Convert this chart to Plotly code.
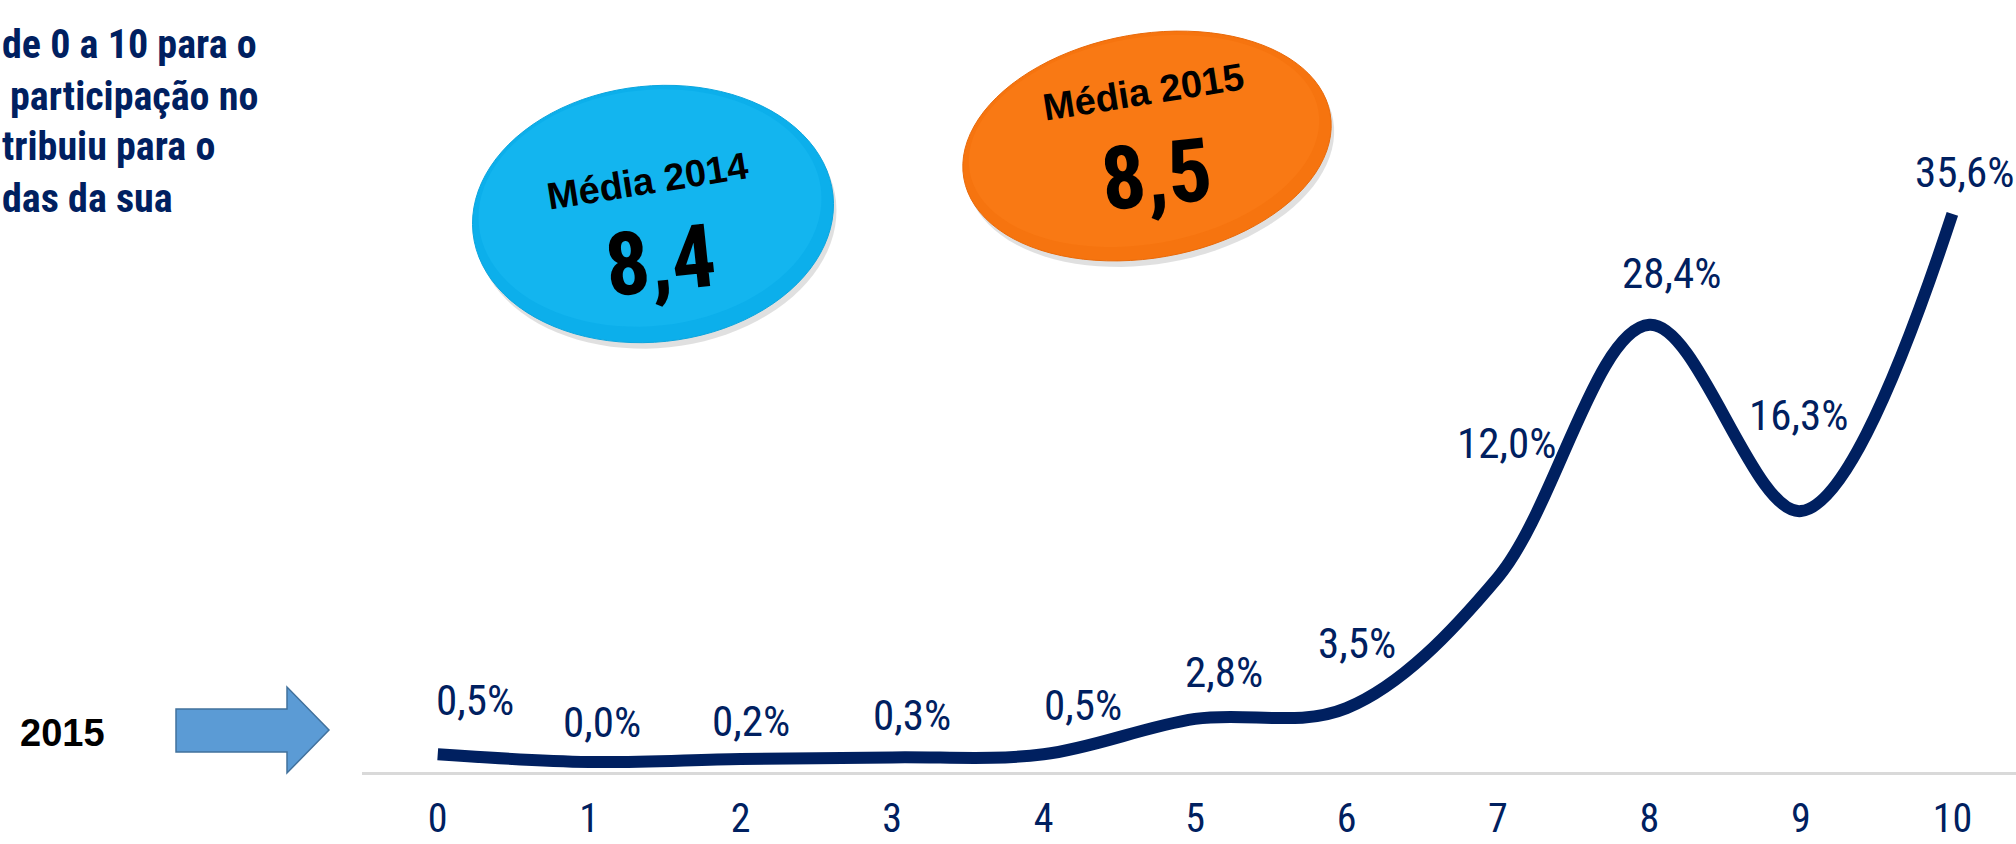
import math
import plotly.graph_objects as go

# ---- data ----
categories = [0, 1, 2, 3, 4, 5, 6, 7, 8, 9, 10]
values_2015 = [0.5, 0.0, 0.2, 0.3, 0.5, 2.8, 3.5, 12.0, 28.4, 16.3, 35.6]
value_labels = ["0,5%", "0,0%", "0,2%", "0,3%", "0,5%", "2,8%", "3,5%",
                "12,0%", "28,4%", "16,3%", "35,6%"]
tick_labels = ["0", "1", "2", "3", "4", "5", "6", "7", "8", "9", "10"]
media_2014 = "8,4"
media_2015 = "8,5"
question_lines = ["de 0 a 10 para o", "participação no", "tribuiu para o", "das da sua"]
series_name = "2015"

# label placement (pixel offsets from each point: dx, dy-up)
label_offsets = [(37, 54), (13, 40), (10, 38), (20, 42), (39, 49), (29, 47),
                 (10, 65), (9, 134), (22, 52), (-2, 96), (12, 42)]

W, H = 2016, 844
L, R, T, B = 362, 2016, 0, 772
NAVY = "#002060"
NARROW = "Liberation Sans Narrow, Arial Narrow, Roboto Condensed, DejaVu Sans Condensed, sans-serif"
SANS = "Liberation Sans, Arial, sans-serif"


def px(x):
    return (x - L) / (R - L)


def py(y):
    return (B - y) / (B - T)


def ellipse_path(cx, cy, a, b, deg, n=96):
    th = math.radians(deg)
    pts = []
    for i in range(n):
        t = 2 * math.pi * i / n
        X = cx + a * math.cos(t) * math.cos(th) + b * math.sin(t) * math.sin(th)
        Y = cy - a * math.cos(t) * math.sin(th) + b * math.sin(t) * math.cos(th)
        pts.append((px(X), py(Y)))
    d = "M {:.5f},{:.5f} ".format(*pts[0])
    d += " ".join("L {:.5f},{:.5f}".format(*p) for p in pts[1:])
    return d + " Z"


def poly_path(points):
    d = "M {:.5f},{:.5f} ".format(px(points[0][0]), py(points[0][1]))
    d += " ".join("L {:.5f},{:.5f}".format(px(x), py(y)) for x, y in points[1:])
    return d + " Z"


fig = go.Figure()
fig.add_trace(go.Scatter(
    x=categories, y=values_2015, mode="lines", name=series_name,
    line=dict(color=NAVY, width=12, shape="spline", smoothing=1),
    hoverinfo="skip", showlegend=False,
))

annotations = []
for c, v, lab, (dx, dy) in zip(categories, values_2015, value_labels, label_offsets):
    annotations.append(dict(
        x=c, y=v, xref="x", yref="y", text=lab, showarrow=False,
        xanchor="center", yanchor="middle", xshift=dx, yshift=dy,
        font=dict(family=NARROW, size=43, color=NAVY),
    ))

# question text (cut at left edge)
q_pos = [(0, 45), (8, 96), (0, 146), (0, 198)]
for line, (x0, yc) in zip(question_lines, q_pos):
    annotations.append(dict(
        x=px(x0), y=py(yc), xref="paper", yref="paper", text="<b>%s</b>" % line,
        showarrow=False, xanchor="left", yanchor="middle",
        font=dict(family=NARROW, size=40, color=NAVY),
    ))

# ellipse texts
annotations += [
    dict(x=px(647), y=py(181), text="<b>Média 2014</b>", textangle=-9,
         font=dict(family=SANS, size=38, color="black")),
    dict(x=px(660), y=py(260), text="<b>%s</b>" % media_2014, textangle=-6,
         font=dict(family=NARROW, size=88, color="black")),
    dict(x=px(1143), y=py(92), text="<b>Média 2015</b>", textangle=-9,
         font=dict(family=SANS, size=38, color="black")),
    dict(x=px(1156), y=py(174), text="<b>%s</b>" % media_2015, textangle=-6,
         font=dict(family=NARROW, size=88, color="black")),
    dict(x=px(62), y=py(733), text="<b>%s</b>" % series_name,
         font=dict(family=SANS, size=38, color="black")),
]
for a in annotations[-5:]:
    a.update(xref="paper", yref="paper", showarrow=False, xanchor="center", yanchor="middle")

BX, BY = 653, 214
OX, OY = 1147, 146
shapes = [
    # soft shadows
    dict(type="path", xref="paper", yref="paper", layer="below",
         path=ellipse_path(BX + 3, BY + 6, 181, 128, 6), fillcolor="rgba(0,0,0,0.12)", line=dict(width=0)),
    dict(type="path", xref="paper", yref="paper", layer="below",
         path=ellipse_path(OX + 3, OY + 6, 186, 112, 10), fillcolor="rgba(0,0,0,0.12)", line=dict(width=0)),
    # ellipses
    dict(type="path", xref="paper", yref="paper", layer="below",
         path=ellipse_path(BX, BY, 181, 128, 6), fillcolor="#0CAFEB",
         line=dict(color="#0BA5DE", width=1)),
    dict(type="path", xref="paper", yref="paper", layer="below",
         path=ellipse_path(OX, OY, 186, 112, 10), fillcolor="#F6740F",
         line=dict(color="#E96A0A", width=1)),
    # subtle highlights
    dict(type="path", xref="paper", yref="paper", layer="below",
         path=ellipse_path(BX - 3, BY - 6, 172, 118, 6), fillcolor="#13B5EF", line=dict(width=0)),
    dict(type="path", xref="paper", yref="paper", layer="below",
         path=ellipse_path(OX - 3, OY - 5, 177, 103, 10), fillcolor="#F97914", line=dict(width=0)),
    # arrow
    dict(type="path", xref="paper", yref="paper", layer="above",
         path=poly_path([(176, 709), (287, 709), (287, 687), (329, 730),
                         (287, 773), (287, 752), (176, 752)]),
         fillcolor="#5B9BD5", line=dict(color="#41719C", width=1.5)),
]

fig.update_layout(
    width=W, height=H,
    margin=dict(l=L, r=W - R, t=T, b=H - B, autoexpand=False),
    paper_bgcolor="white", plot_bgcolor="white",
    showlegend=False,
    annotations=annotations, shapes=shapes,
    xaxis=dict(
        range=[-0.5, 10.42], tickmode="array", tickvals=categories, ticktext=tick_labels,
        showgrid=False, zeroline=False, showline=True, linecolor="#D9D9D9", linewidth=3,
        ticks="", tickfont=dict(family=NARROW, size=40, color=NAVY),
        ticklabelstandoff=9, automargin=False,
    ),
    yaxis=dict(range=[-0.65, 49.5], visible=False, showgrid=False, zeroline=False,
               automargin=False),
)

fig.write_html("out.html", config={"displayModeBar": False},
               post_script="document.body.style.margin='0px';")
